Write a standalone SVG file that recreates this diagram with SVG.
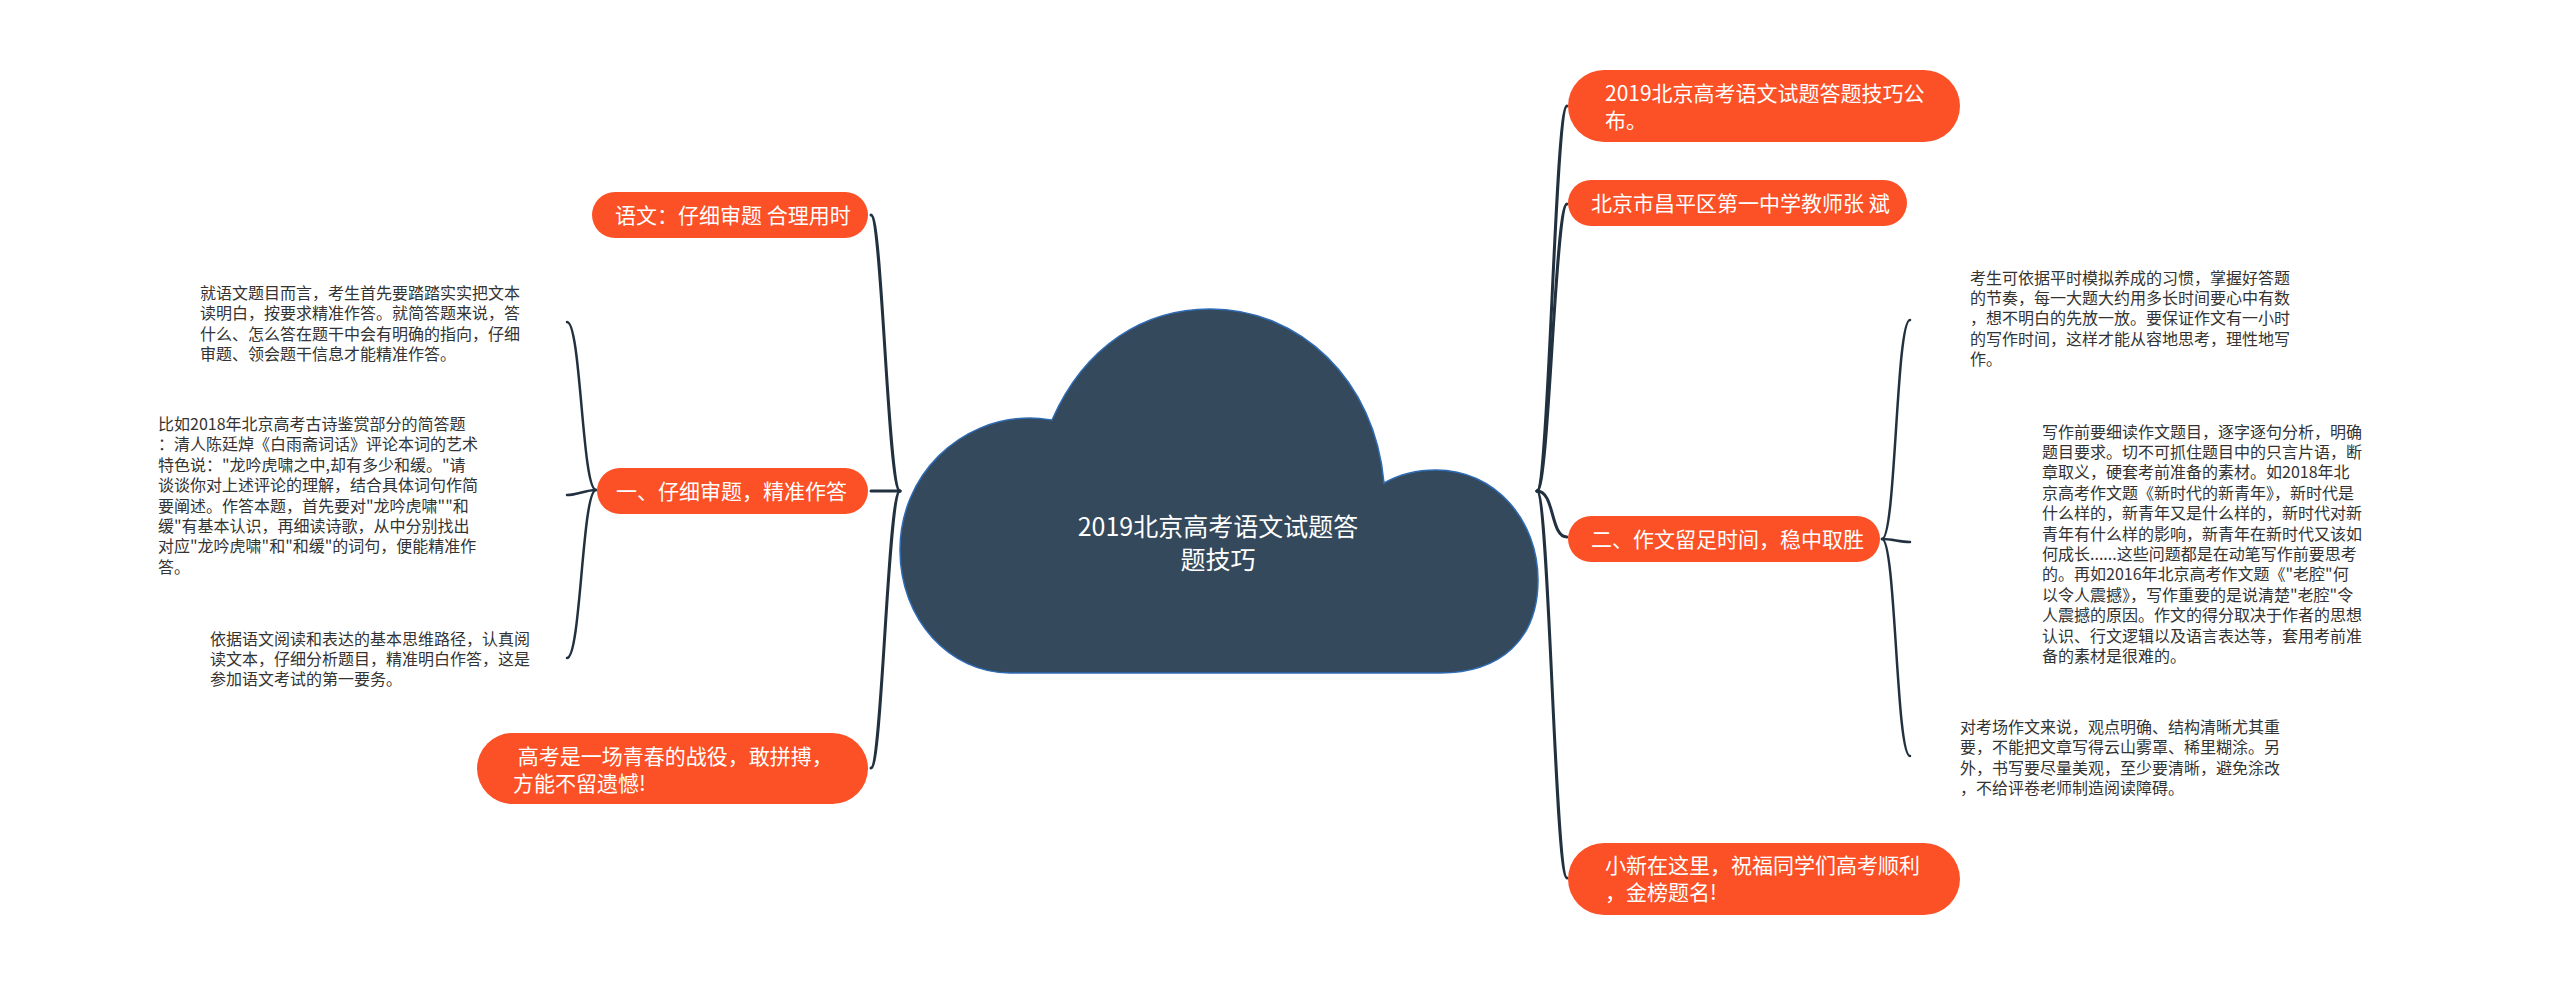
<svg xmlns="http://www.w3.org/2000/svg" width="2560" height="984" viewBox="0 0 2560 984">
<style>
.pill{fill:#fc5026;}
.nt{font-family:"Noto Sans CJK SC","Noto Sans",sans-serif;font-size:21px;fill:#ffffff;}
.bt{font-family:"Noto Sans CJK SC","Noto Sans",sans-serif;font-size:16px;fill:#333333;}
.ct{font-family:"Noto Sans CJK SC","Noto Sans",sans-serif;font-size:25px;fill:#ffffff;text-anchor:middle;}
.main{fill:none;stroke:#22313f;stroke-width:3;stroke-linecap:round;}
.sub{fill:none;stroke:#22313f;stroke-width:2.5;stroke-linecap:round;}
</style>
<rect x="0" y="0" width="2560" height="984" fill="#ffffff"/>
<g id="connectors">
<path class="main" d="M900 491 C888 491 882 215 871 215"/>
<path class="main" d="M900 491 L871 491"/>
<path class="main" d="M900 491 C888 491 882 768 871 768"/>
<path class="main" d="M1537 491 C1549 491 1555 106 1567 106"/>
<path class="main" d="M1537 491 C1549 491 1555 204 1567 204"/>
<path class="main" d="M1537 491 C1555 491 1550 537 1567 537"/>
<path class="main" d="M1537 491 C1549 491 1555 878 1567 878"/>
<path class="sub" d="M596 490 C582 490 581 322 567 322"/>
<path class="sub" d="M596 490 C585 490 578 495 567 495"/>
<path class="sub" d="M596 490 C582 490 581 658 567 658"/>
<path class="sub" d="M1882 539 C1896 539 1896 320 1910 320"/>
<path class="sub" d="M1882 539 C1893 539 1899 542 1910 542"/>
<path class="sub" d="M1882 539 C1896 539 1896 756 1910 756"/>
</g>
<g id="center">
<path d="M1052 420 C1085 345 1145 309 1210 309 C1300 309 1375 380 1384 483 C1400 474 1418 470 1436 470 C1495 470 1538 520 1538 580 C1538 640 1500 673 1440 673 L1010 673 C950 673 900 620 900 550 C900 475 960 418 1030 418 C1038 418 1045 419 1052 420 Z" fill="#35495c" stroke="#2f6cb5" stroke-width="1.5"/>
<text class="ct" x="1218" y="536">2019北京高考语文试题答</text>
<text class="ct" x="1218" y="569">题技巧</text>
</g>
<g id="node-l1">
<rect class="pill" x="592" y="192" width="276" height="46" rx="23"/>
<text class="nt" x="615" y="222.5">语文：仔细审题 合理用时</text>
</g>
<g id="node-l2">
<rect class="pill" x="597" y="468" width="271" height="46" rx="23"/>
<text class="nt" x="616" y="498.5">一、仔细审题，精准作答</text>
</g>
<g id="node-l3">
<rect class="pill" x="477" y="733" width="391" height="71" rx="35.5"/>
<text class="nt" xml:space="preserve" x="513" y="763.5"> 高考是一场青春的战役，敢拼搏，</text>
<text class="nt" x="513" y="790.5">方能不留遗憾!</text>
</g>
<g id="node-r1">
<rect class="pill" x="1568" y="70" width="392" height="72" rx="36"/>
<text class="nt" x="1605" y="100.5">2019北京高考语文试题答题技巧公</text>
<text class="nt" x="1605" y="127.5">布。</text>
</g>
<g id="node-r2">
<rect class="pill" x="1568" y="180" width="339" height="46" rx="23"/>
<text class="nt" x="1591" y="210.5">北京市昌平区第一中学教师张 斌</text>
</g>
<g id="node-r3">
<rect class="pill" x="1568" y="516" width="312" height="46" rx="23"/>
<text class="nt" x="1591" y="546.5">二、作文留足时间，稳中取胜</text>
</g>
<g id="node-r4">
<rect class="pill" x="1568" y="843" width="392" height="72" rx="36"/>
<text class="nt" x="1605" y="873">小新在这里，祝福同学们高考顺利</text>
<text class="nt" x="1605" y="900">，金榜题名!</text>
</g>
<g id="block-a">
<text class="bt" x="200" y="299"><tspan x="200">就语文题目而言，考生首先要踏踏实实把文本</tspan><tspan x="200" dy="20.4">读明白，按要求精准作答。就简答题来说，答</tspan><tspan x="200" dy="20.4">什么、怎么答在题干中会有明确的指向，仔细</tspan><tspan x="200" dy="20.4">审题、领会题干信息才能精准作答。</tspan></text>
</g>
<g id="block-b">
<text class="bt" x="158" y="430"><tspan x="158">比如2018年北京高考古诗鉴赏部分的简答题</tspan><tspan x="158" dy="20.4">：清人陈廷焯《白雨斋词话》评论本词的艺术</tspan><tspan x="158" dy="20.4">特色说："龙吟虎啸之中,却有多少和缓。"请</tspan><tspan x="158" dy="20.4">谈谈你对上述评论的理解，结合具体词句作简</tspan><tspan x="158" dy="20.4">要阐述。作答本题，首先要对"龙吟虎啸""和</tspan><tspan x="158" dy="20.4">缓"有基本认识，再细读诗歌，从中分别找出</tspan><tspan x="158" dy="20.4">对应"龙吟虎啸"和"和缓"的词句，便能精准作</tspan><tspan x="158" dy="20.4">答。</tspan></text>
</g>
<g id="block-c">
<text class="bt" x="210" y="644.5"><tspan x="210">依据语文阅读和表达的基本思维路径，认真阅</tspan><tspan x="210" dy="20.4">读文本，仔细分析题目，精准明白作答，这是</tspan><tspan x="210" dy="20.4">参加语文考试的第一要务。</tspan></text>
</g>
<g id="block-d">
<text class="bt" x="1970" y="283.5"><tspan x="1970">考生可依据平时模拟养成的习惯，掌握好答题</tspan><tspan x="1970" dy="20.4">的节奏，每一大题大约用多长时间要心中有数</tspan><tspan x="1970" dy="20.4">，想不明白的先放一放。要保证作文有一小时</tspan><tspan x="1970" dy="20.4">的写作时间，这样才能从容地思考，理性地写</tspan><tspan x="1970" dy="20.4">作。</tspan></text>
</g>
<g id="block-e">
<text class="bt" x="2042" y="437.5"><tspan x="2042">写作前要细读作文题目，逐字逐句分析，明确</tspan><tspan x="2042" dy="20.4">题目要求。切不可抓住题目中的只言片语，断</tspan><tspan x="2042" dy="20.4">章取义，硬套考前准备的素材。如2018年北</tspan><tspan x="2042" dy="20.4">京高考作文题《新时代的新青年》，新时代是</tspan><tspan x="2042" dy="20.4">什么样的，新青年又是什么样的，新时代对新</tspan><tspan x="2042" dy="20.4">青年有什么样的影响，新青年在新时代又该如</tspan><tspan x="2042" dy="20.4">何成长......这些问题都是在动笔写作前要思考</tspan><tspan x="2042" dy="20.4">的。再如2016年北京高考作文题《"老腔"何</tspan><tspan x="2042" dy="20.4">以令人震撼》，写作重要的是说清楚"老腔"令</tspan><tspan x="2042" dy="20.4">人震撼的原因。作文的得分取决于作者的思想</tspan><tspan x="2042" dy="20.4">认识、行文逻辑以及语言表达等，套用考前准</tspan><tspan x="2042" dy="20.4">备的素材是很难的。</tspan></text>
</g>
<g id="block-f">
<text class="bt" x="1960" y="733"><tspan x="1960">对考场作文来说，观点明确、结构清晰尤其重</tspan><tspan x="1960" dy="20.4">要，不能把文章写得云山雾罩、稀里糊涂。另</tspan><tspan x="1960" dy="20.4">外，书写要尽量美观，至少要清晰，避免涂改</tspan><tspan x="1960" dy="20.4">，不给评卷老师制造阅读障碍。</tspan></text>
</g>
</svg>
